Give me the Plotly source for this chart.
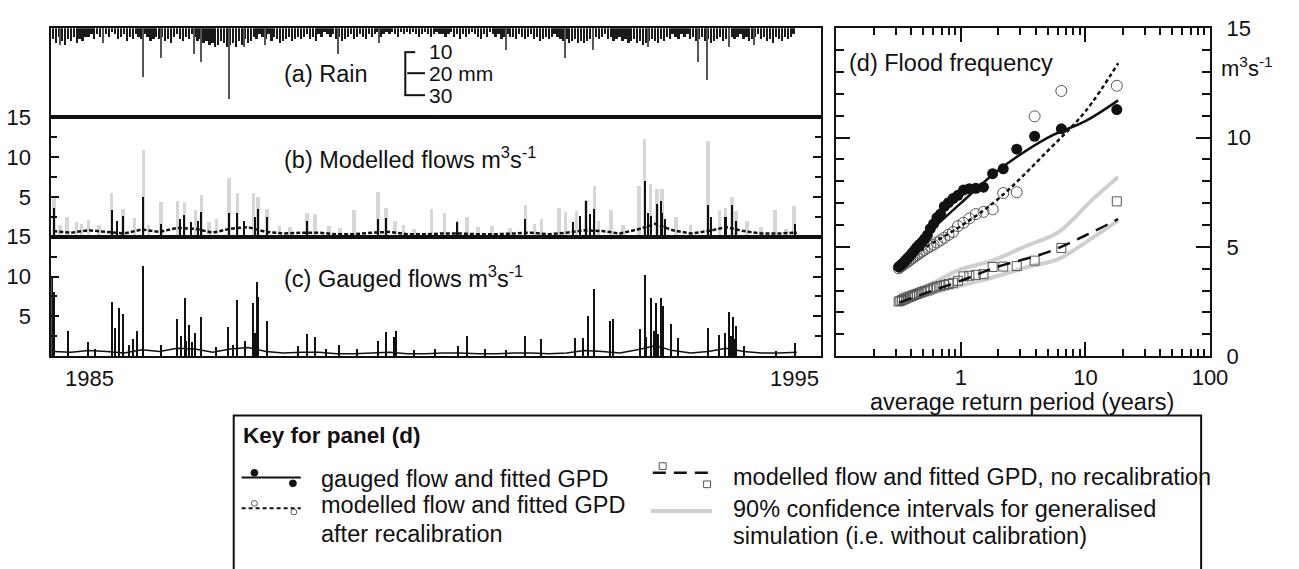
import plotly.graph_objects as go

W, H = 1299, 569
FONT = "Liberation Sans, Arial, Helvetica, sans-serif"

def px(x):
    return x / W

def py(y):
    return 1 - y / H

# ---------------- data: panel (a) rain (semi-monthly typical daily max, mm) ----------------
rain_start = 1984.5
rain_mm = [5, 7, 4, 6, 8, 5, 6, 4, 7, 5, 6, 4,
           4, 3, 5, 3, 4, 2, 3, 4, 2, 3, 5, 4, 3, 6, 4, 5, 3, 4, 5, 3, 4, 6, 5, 4,
           5, 4, 6, 5, 7, 4, 3, 5, 6, 4, 5, 3, 4, 6, 5, 7, 6, 8, 7, 9, 8, 6, 7, 9,
           8, 7, 9, 6, 8, 5, 7, 6, 4, 5, 3, 4, 5, 3, 6, 4, 5, 7, 6, 5, 4, 6, 5, 4,
           5, 4, 3, 5, 4, 6, 3, 4, 2, 3, 4, 3, 5, 4, 6, 5, 4, 3, 5, 4, 3, 4, 5, 3,
           4, 3, 2, 4, 3, 2, 3, 2, 3, 4, 2, 3, 2, 3, 2, 3, 4, 3, 2, 3, 4, 3, 2, 3,
           3, 4, 3, 2, 4, 3, 5, 3, 4, 3, 2, 3, 4, 5, 3, 4, 2, 3, 4, 3, 5, 4, 3, 4,
           4, 5, 3, 4, 5, 4, 3, 5, 4, 6, 5, 4, 5, 4, 3, 4, 5, 6, 5, 7, 6, 5, 7, 6,
           7, 6, 5, 6, 4, 5, 4, 3, 5, 4, 6, 5, 4, 6, 5, 7, 6, 5, 7, 6, 8, 7, 6, 5,
           6, 7, 5, 6, 4, 5, 3, 4, 5, 3, 4, 3, 5, 4, 6, 5, 4, 6, 5, 7, 6, 5, 4, 6,
           5, 6, 4, 5, 4, 3, 5, 4, 6, 5, 4, 3, 5, 4, 6, 5, 7, 4, 5, 6, 4, 5, 4, 3]
rain_x = [rain_start + i / 24 for i in range(len(rain_mm))]

rain_spike_t = [1984.6, 1985.2, 1985.768, 1986.02, 1986.494, 1986.592, 1986.983, 1987.2,
                1987.5, 1988.52, 1989.1, 1990.894, 1991.732, 1992.123, 1992.9, 1993.603,
                1993.743, 1994.05, 1994.4]
rain_spike_mm = [8, 7, 22.7, 14, 12, 16, 33, 9, 8, 12, 7, 10, 14, 10, 9, 16, 24, 9, 8]

# ---------------- panel (b) modelled flows ----------------
grey_t = [1984.511, 1984.697, 1984.832, 1985.0, 1985.325, 1985.489, 1985.652, 1985.778,
          1986.024, 1986.257, 1986.359, 1986.513, 1986.596, 1986.806, 1986.987, 1987.105,
          1987.328, 1987.398, 1987.524, 1988.087, 1988.203, 1988.747, 1989.088, 1989.2,
          1989.33, 1989.842, 1990.028, 1990.214, 1990.345, 1991.169, 1991.401, 1991.644,
          1991.736, 1991.89, 1992.03, 1992.146, 1992.378, 1992.775, 1992.853, 1992.937,
          1993.031, 1993.101, 1993.753, 1993.915, 1993.999, 1994.088, 1994.148, 1994.693,
          1994.962,
          1984.6, 1984.9, 1985.15, 1985.85, 1986.7, 1987.7, 1987.85, 1988.4, 1988.55,
          1989.45, 1989.6, 1990.5, 1990.7, 1990.95, 1991.3, 1992.2, 1992.55, 1993.3,
          1993.5, 1994.3, 1994.5, 1994.85]
grey_q = [5.0, 2.4, 1.8, 2.1, 5.4, 3.5, 2.3, 10.9,
          4.3, 4.4, 4.3, 3.3, 5.2, 2.2, 7.4, 5.4,
          5.5, 5.0, 3.4, 3.0, 2.8, 3.3, 5.6, 3.6,
          2.0, 3.5, 2.9, 2.0, 2.4, 4.0, 2.2, 3.6,
          3.1, 3.2, 4.6, 6.4, 3.3, 6.4, 12.2, 6.6,
          6.0, 6.0, 12.0, 3.3, 3.6, 5.0, 3.2, 3.3,
          3.8,
          1.5, 1.6, 1.4, 1.5, 1.8, 1.3, 1.2, 1.3, 1.1,
          1.4, 1.0, 1.2, 1.3, 1.1, 1.6, 2.0, 1.5, 2.5,
          1.4, 2.0, 1.2, 1.0]

model_t = [1984.511, 1985.335, 1985.489, 1985.778, 1986.024, 1986.359, 1986.592, 1986.987,
           1987.105, 1987.398, 1987.524, 1988.087, 1989.088, 1989.2, 1990.214, 1991.169,
           1991.844, 1992.03, 1992.146, 1992.866, 1993.031, 1993.087, 1993.753, 1994.088,
           1994.976,
           1986.45, 1986.55, 1987.2, 1987.35, 1992.9, 1992.95, 1993.1, 1993.15, 1993.8,
           1994.0, 1994.15, 1985.4, 1986.3, 1991.95, 1992.08]
model_q = [3.6, 3.3, 2.6, 5.0, 1.6, 2.7, 3.1, 2.9,
           2.9, 3.4, 2.4, 2.0, 2.2, 2.3, 1.8, 2.2,
           1.8, 4.4, 3.5, 7.0, 4.1, 4.4, 4.0, 4.0,
           1.6,
           1.8, 2.0, 2.0, 2.5, 3.0, 2.6, 3.0, 2.2, 2.5,
           2.5, 2.0, 2.0, 2.2, 2.6, 2.8]

base_t = [1984.5 + 0.25 * i for i in range(43)]
model_base = [0.7, 0.5, 0.8, 0.6, 0.4, 0.9, 0.6, 1.1, 1.0, 0.5, 1.0, 1.2, 0.6, 0.4,
              0.5, 0.5, 0.3, 0.3, 0.5, 0.6, 0.3, 0.3, 0.4, 0.4, 0.3, 0.3, 0.4, 0.5,
              0.3, 0.5, 0.8, 0.7, 0.4, 0.9, 1.6, 0.8, 0.4, 0.7, 1.2, 0.7, 0.4, 0.4, 0.5]

# ---------------- panel (c) gauged flows ----------------
gauged_t = [1984.487, 1984.51, 1984.72, 1985.0, 1985.335, 1985.377, 1985.429, 1985.489,
            1985.568, 1985.628, 1985.689, 1985.768, 1986.02, 1986.257, 1986.313, 1986.359,
            1986.42, 1986.513, 1986.596, 1986.806, 1986.979, 1987.049, 1987.105, 1987.211,
            1987.328, 1987.384, 1987.402, 1987.524, 1987.957, 1988.087, 1988.203, 1988.534,
            1989.096, 1989.2, 1989.32, 1989.344, 1990.214, 1990.345, 1991.169, 1991.392,
            1991.867, 1991.993, 1992.053, 1992.137, 1992.365, 1992.416, 1992.797, 1992.859,
            1992.951, 1993.021, 1993.082, 1993.115, 1993.23, 1993.334, 1993.753, 1993.906,
            1993.985, 1994.054, 1994.102, 1994.148, 1994.255, 1994.707, 1994.976,
            1985.1, 1988.35, 1988.8, 1989.6, 1989.9, 1990.6, 1990.9, 1986.38, 1986.47,
            1987.36, 1992.88, 1992.99, 1993.05, 1994.08, 1994.12]
gauged_q = [10.1, 8.1, 3.2, 1.8, 6.9, 3.6, 6.1, 5.3,
            1.5, 2.2, 3.2, 11.3, 1.5, 4.7, 2.6, 7.4,
            3.9, 3.0, 4.9, 1.2, 3.7, 1.5, 7.1, 2.0,
            6.7, 9.4, 7.5, 4.4, 1.3, 2.8, 2.5, 1.4,
            1.9, 3.1, 2.5, 3.2, 1.3, 2.6, 2.6, 2.2,
            2.3, 2.3, 5.1, 8.5, 4.4, 4.7, 3.4, 10.2,
            7.4, 6.7, 7.4, 6.4, 4.1, 2.3, 3.6, 2.7,
            2.9, 5.6, 5.0, 3.8, 1.3, 0.7, 1.7,
            1.0, 0.9, 1.0, 0.8, 1.0, 0.9, 0.8, 2.0, 1.8,
            3.0, 2.5, 3.2, 2.8, 2.6, 2.2]
gauged_base = [0.6, 0.5, 0.7, 0.6, 0.4, 0.8, 0.6, 1.0, 0.9, 0.5, 0.9, 1.1, 0.6, 0.4,
               0.5, 0.5, 0.3, 0.3, 0.4, 0.5, 0.3, 0.3, 0.4, 0.4, 0.3, 0.3, 0.4, 0.4,
               0.3, 0.4, 0.7, 0.6, 0.4, 0.8, 1.3, 0.7, 0.4, 0.6, 1.0, 0.6, 0.4, 0.4, 0.5]

# ---------------- panel (d) flood frequency ----------------
return_period = [17.86, 6.41, 3.91, 2.81, 2.19, 1.80, 1.52, 1.32, 1.17, 1.05, 0.947, 0.865,
                 0.796, 0.737, 0.687, 0.643, 0.604, 0.569, 0.539, 0.511, 0.486, 0.464,
                 0.443, 0.424, 0.407, 0.391, 0.376, 0.362, 0.350, 0.338, 0.327, 0.317]
gauged_peaks = [11.28, 10.40, 10.06, 9.47, 8.57, 8.35, 7.73, 7.68, 7.66, 7.60, 7.36, 7.21,
                7.02, 6.85, 6.50, 6.34, 6.05, 5.83, 5.54, 5.36, 5.21, 5.10, 4.98, 4.84,
                4.72, 4.60, 4.50, 4.40, 4.30, 4.22, 4.15, 4.08]
recal_peaks = [12.37, 12.13, 10.97, 7.50, 7.46, 6.72, 6.60, 6.50, 6.30, 6.10, 5.95, 5.68,
               5.55, 5.42, 5.30, 5.20, 5.10, 5.02, 4.95, 4.86, 4.78, 4.70, 4.62, 4.55,
               4.47, 4.40, 4.33, 4.27, 4.20, 4.14, 4.08, 4.02]
norecal_peaks = [7.08, 4.95, 4.37, 4.12, 4.10, 4.08, 3.75, 3.72, 3.68, 3.65, 3.45, 3.36,
                 3.30, 3.26, 3.22, 3.18, 3.13, 3.06, 3.01, 2.97, 2.93, 2.88, 2.84, 2.80,
                 2.76, 2.72, 2.68, 2.64, 2.60, 2.57, 2.53, 2.50]

fit_rp = [0.32, 0.5, 1, 2, 5, 10, 18.3]
fit_gauged = [4.1, 5.4, 7.0, 8.5, 10.0, 10.75, 11.7]
fit_recal = [4.0, 4.9, 5.95, 7.2, 9.4, 11.2, 13.4]
fit_norecal = [2.45, 2.85, 3.45, 4.1, 4.76, 5.52, 6.27]

ci_rp = [0.32, 0.53, 0.96, 1.79, 3.3, 6.1, 11.3, 18.3]
ci_upper = [2.8, 3.2, 3.94, 4.37, 5.03, 5.68, 7.15, 8.2]
ci_lower = [2.4, 2.8, 3.2, 3.6, 4.05, 4.45, 5.4, 6.2]

flow_tick_vals = [5, 10, 15]
flow_minor_vals = [2.5, 7.5, 12.5]
freq_tick_vals = [1, 10, 100]
freq_tick_text = ["1", "10", "100"]
freq_minor_vals = [0.2, 0.3, 0.4, 0.5, 0.6, 0.7, 0.8, 0.9, 2, 3, 4, 5, 6, 7, 8, 9,
                   20, 30, 40, 50, 60, 70, 80, 90]

# ---------------- figure ----------------
fig = go.Figure()

# panel a
fig.add_trace(go.Bar(x=rain_x, y=rain_mm, width=0.032, marker=dict(color="#1a1a1a", line_width=0),
                     xaxis="x", yaxis="y", showlegend=False))
fig.add_trace(go.Bar(x=rain_spike_t, y=rain_spike_mm, width=0.016,
                     marker=dict(color="#555", line_width=0), xaxis="x", yaxis="y", showlegend=False))

# panel b
fig.add_trace(go.Bar(x=grey_t, y=grey_q, width=0.05, marker=dict(color="#d6d6d6", line_width=0),
                     xaxis="x2", yaxis="y2", showlegend=False))
fig.add_trace(go.Scatter(x=base_t, y=model_base, mode="lines", line=dict(color="#111", width=2.5, dash="4px,2px"),
                         xaxis="x2", yaxis="y2", showlegend=False))
fig.add_trace(go.Bar(x=model_t, y=model_q, width=0.022, marker=dict(color="#111", line_width=0),
                     xaxis="x2", yaxis="y2", showlegend=False))

# panel c
fig.add_trace(go.Scatter(x=base_t, y=gauged_base, mode="lines", line=dict(color="#111", width=1.5),
                         xaxis="x3", yaxis="y3", showlegend=False))
fig.add_trace(go.Bar(x=gauged_t, y=gauged_q, width=0.018, marker=dict(color="#111", line_width=0),
                     xaxis="x3", yaxis="y3", showlegend=False))

# panel d
for ys in (ci_upper, ci_lower):
    fig.add_trace(go.Scatter(x=ci_rp, y=ys, mode="lines", line=dict(color="#cfcfcf", width=4, shape="spline"),
                             xaxis="x4", yaxis="y4", showlegend=False))
fig.add_trace(go.Scatter(x=return_period, y=norecal_peaks, mode="markers",
                         marker=dict(symbol="square-open", size=9, color="#555", line=dict(width=1)),
                         xaxis="x4", yaxis="y4", showlegend=False))
fig.add_trace(go.Scatter(x=fit_rp, y=fit_norecal, mode="lines",
                         line=dict(color="#111", width=2.5, dash="13px,8px", shape="spline"),
                         xaxis="x4", yaxis="y4", showlegend=False))
fig.add_trace(go.Scatter(x=return_period, y=recal_peaks, mode="markers",
                         marker=dict(symbol="circle-open", size=11, color="#555", line=dict(width=1)),
                         xaxis="x4", yaxis="y4", showlegend=False))
fig.add_trace(go.Scatter(x=fit_rp, y=fit_recal, mode="lines",
                         line=dict(color="#111", width=2.5, dash="4px,3px", shape="spline"),
                         xaxis="x4", yaxis="y4", showlegend=False))
fig.add_trace(go.Scatter(x=return_period, y=gauged_peaks, mode="markers",
                         marker=dict(symbol="circle", size=11, color="#111"),
                         xaxis="x4", yaxis="y4", showlegend=False))
fig.add_trace(go.Scatter(x=fit_rp, y=fit_gauged, mode="lines",
                         line=dict(color="#111", width=2.5, shape="spline"),
                         xaxis="x4", yaxis="y4", showlegend=False))

X0, X1 = 1984.471, 1995.348
tfont = dict(family=FONT, size=22, color="#111")

def time_x(anchor, match=None):
    d = dict(domain=[px(52), px(833)], range=[X0, X1], anchor=anchor, showline=True, mirror=True,
             linecolor="#111", linewidth=2, showgrid=False, zeroline=False, ticks="",
             showticklabels=False)
    if match:
        d["matches"] = match
    return d

def flow_y(top, bottom):
    return dict(domain=[py(bottom), py(top)], range=[0, 15], showline=True, mirror="ticks",
                linecolor="#111", linewidth=2, showgrid=False, zeroline=False, ticks="inside",
                ticklen=8, tickwidth=1.5, tickcolor="#111",
                tickmode="array", tickvals=flow_tick_vals,
                tickfont=tfont, ticklabelstandoff=14,
                minor=dict(ticks="inside", ticklen=6, tickwidth=1.5, tickcolor="#111",
                           tickmode="array", tickvals=flow_minor_vals, showgrid=False))

fig.update_layout(
    width=W, height=H, margin=dict(l=0, r=0, t=0, b=0),
    paper_bgcolor="white", plot_bgcolor="rgba(0,0,0,0)",
    barmode="overlay", bargap=0, showlegend=False,
    font=dict(family=FONT, size=22, color="#111"),
    xaxis=time_x("y"),
    yaxis=dict(domain=[py(110), py(17)], range=[41.3, 0], showline=True, mirror=True,
               linecolor="#111", linewidth=2, showgrid=False, zeroline=False, ticks="",
               showticklabels=False, anchor="x"),
    xaxis2=time_x("y2", "x"),
    yaxis2=dict(flow_y(110, 235), anchor="x2"),
    xaxis3=time_x("y3", "x"),
    yaxis3=dict(flow_y(235, 360), anchor="x3"),
    xaxis4=dict(type="log", domain=[px(848), px(1227)], range=[-1, 2], anchor="y4",
                showline=True, mirror="ticks", linecolor="#111", linewidth=2, showgrid=False,
                zeroline=False, ticks="inside", ticklen=14, tickwidth=2, tickcolor="#111",
                tickmode="array", tickvals=freq_tick_vals, ticktext=freq_tick_text, tickfont=tfont,
                ticklabelstandoff=0,
                minor=dict(ticks="inside", ticklen=7, tickwidth=2, tickcolor="#111",
                           tickmode="array", tickvals=freq_minor_vals, showgrid=False)),
    yaxis4=dict(domain=[py(360), py(17)], range=[0, 15], anchor="x4", side="right",
                showline=True, mirror="ticks", linecolor="#111", linewidth=2, showgrid=False,
                zeroline=False, ticks="inside", ticklen=14, tickwidth=2, tickcolor="#111",
                tickmode="array", tickvals=[0, 5, 10, 15], tickfont=tfont, ticklabelstandoff=10,
                minor=dict(ticks="inside", ticklen=8, tickwidth=2, tickcolor="#111",
                           dtick=1, tick0=0, showgrid=False)),
)

def note(text, x, y, size=23.5, xanchor="left", bold=False):
    fig.add_annotation(text=("<b>%s</b>" % text) if bold else text, x=px(x), y=py(y),
                       xref="paper", yref="paper", xanchor=xanchor, yanchor="middle",
                       showarrow=False, borderpad=0,
                       font=dict(family=FONT, size=size, color="#111"))

note("(a) Rain", 287, 65)
note("10", 434, 41, 21)
note("20 mm", 434, 64, 21)
note("30", 434, 87, 21)
note("(b) Modelled flows m<sup>3</sup>s<sup>-1</sup>", 287, 153)
note("(c) Gauged flows m<sup>3</sup>s<sup>-1</sup>", 287, 277)
note("1985", 91, 383, 22, "center")
note("1995", 806, 383, 22, "center")
note("(d) Flood frequency", 860, 53)
note("m<sup>3</sup>s<sup>-1</sup>", 1237, 58, 22)
note("average return period (years)", 1036, 408, 23.5, "center")

note("Key for panel (d)", 245, 443, 22.5, bold=True)
note("gauged flow and fitted GPD", 325, 488)
note("modelled flow and fitted GPD", 325, 516)
note("after recalibration", 325, 546)
note("modelled flow and fitted GPD, no recalibration", 742, 486)
note("90% confidence intervals for generalised", 742, 520)
note("simulation (i.e. without calibration)", 742, 548)

shapes = []

def line(x0, y0, x1, y1, color="#111", width=2, dash=None):
    d = dict(type="line", xref="paper", yref="paper", x0=px(x0), y0=py(y0), x1=px(x1), y1=py(y1),
             line=dict(color=color, width=width))
    if dash:
        d["line"]["dash"] = dash
    shapes.append(d)

def circ(cx, cy, r, fill, color="#111", width=1):
    shapes.append(dict(type="circle", xref="paper", yref="paper", x0=px(cx - r), x1=px(cx + r),
                       y0=py(cy + r), y1=py(cy - r), fillcolor=fill, line=dict(color=color, width=width)))

def sq(cx, cy, r):
    shapes.append(dict(type="rect", xref="paper", yref="paper", x0=px(cx - r), x1=px(cx + r),
                       y0=py(cy + r), y1=py(cy - r), fillcolor="white", line=dict(color="#555", width=1)))

# rain scale bar
line(411, 42, 411, 87)
line(410, 42, 421, 42)
line(413, 64, 431, 64)
line(410, 87, 431, 87)

# key box
shapes.append(dict(type="rect", xref="paper", yref="paper", x0=px(237), x1=px(1218),
                   y0=py(600), y1=py(422), line=dict(color="#111", width=2), fillcolor="rgba(0,0,0,0)"))
line(245, 487, 305, 487, width=2)
circ(258, 482, 3.5, "#111")
circ(297, 493, 3.5, "#111")
line(245, 519, 305, 519, width=2, dash="4px,3px")
circ(258, 514, 3, "white", "#555")
circ(298, 523, 3, "white", "#555")
line(662, 482, 720, 482, width=2.5, dash="13px,8px")
sq(672, 475, 3.5)
sq(717, 494, 3.5)
line(660, 522, 722, 522, color="#cfcfcf", width=4)

fig.update_layout(shapes=shapes)

fig.write_html("out.html")
